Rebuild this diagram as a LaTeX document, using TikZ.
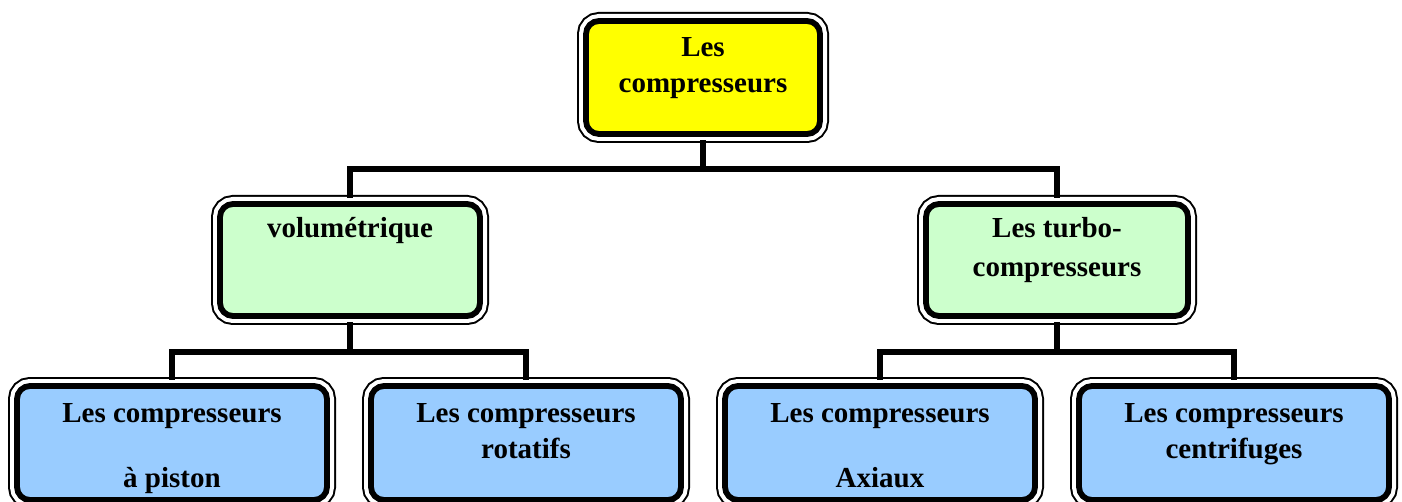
\documentclass[tikz,border=0pt]{standalone}
\usepackage{fontspec}
\setmainfont{Liberation Serif}
\definecolor{topfill}{HTML}{FFFF00}
\definecolor{midfill}{HTML}{CCFFCC}
\definecolor{lowfill}{HTML}{99CCFF}
\tikzset{
  x=1pt, y=-1pt,
  % thin outer rule, white gap, thick inner rule
  cbox/.style={rectangle, rounded corners=13pt, inner sep=0pt, outer sep=9pt,
    preaction={draw=black, line width=18pt},
    preaction={draw=white, line width=14pt},
    draw=black, line width=5.8pt},
  conn/.style={draw=black, line width=5.5pt, line cap=rect},
  lbl/.style={anchor=base, inner sep=0pt, font=\fontsize{29}{34}\selectfont\bfseries}
}
\newcommand{\cboxat}[6]{%
  \node[cbox, fill=#6, minimum width=#4-#2, minimum height=#5-#3] (#1) at ({(#2+#4)/2},{(#3+#5)/2}) {};}
\begin{document}
\begin{tikzpicture}
\useasboundingbox (0,0) rectangle (1402,502);
\clip (0,0) rectangle (1402,502);

% junction points of the tree
\coordinate (topbar) at (703,169);
\coordinate (volbar) at (350,352);
\coordinate (turbar) at (1057,352);

\cboxat{top}{586}{21}{820}{134}{topfill}
\cboxat{vol}{220}{204}{480}{316}{midfill}
\cboxat{tur}{926}{204}{1188}{316}{midfill}
\cboxat{bA}{17}{386}{327}{500}{lowfill}
\cboxat{bB}{371}{386}{681}{500}{lowfill}
\cboxat{bC}{725}{386}{1035}{500}{lowfill}
\cboxat{bD}{1079}{386}{1389}{500}{lowfill}

\draw[conn] (top.south) -- (topbar);
\draw[conn] (topbar) -| (vol.north);
\draw[conn] (topbar) -| (tur.north);
\draw[conn] (vol.south) -- (volbar);
\draw[conn] (volbar) -| (bA.north);
\draw[conn] (volbar) -| (bB.north);
\draw[conn] (tur.south) -- (turbar);
\draw[conn] (turbar) -| (bC.north);
\draw[conn] (turbar) -| (bD.north);

% texts
\node[lbl] (tTopA) at (703,57) {Les};
\node[lbl] (tTopB) at (703,93) {compresseurs};
\node[lbl] (tVol) at (350,238) {volumétrique};
\node[lbl] (tTurA) at (1057,238) {Les turbo-};
\node[lbl] (tTurB) at (1057,277) {compresseurs};
\node[lbl] (tAA) at (172,422) {Les compresseurs};
\node[lbl] (tAB) at (172,487) {à piston};
\node[lbl] (tBA) at (526,422) {Les compresseurs};
\node[lbl] (tBB) at (526,458) {rotatifs};
\node[lbl] (tCA) at (880,422) {Les compresseurs};
\node[lbl] (tCB) at (880,487) {Axiaux};
\node[lbl] (tDA) at (1234,422) {Les compresseurs};
\node[lbl] (tDB) at (1234,458) {centrifuges};
\end{tikzpicture}
\end{document}
